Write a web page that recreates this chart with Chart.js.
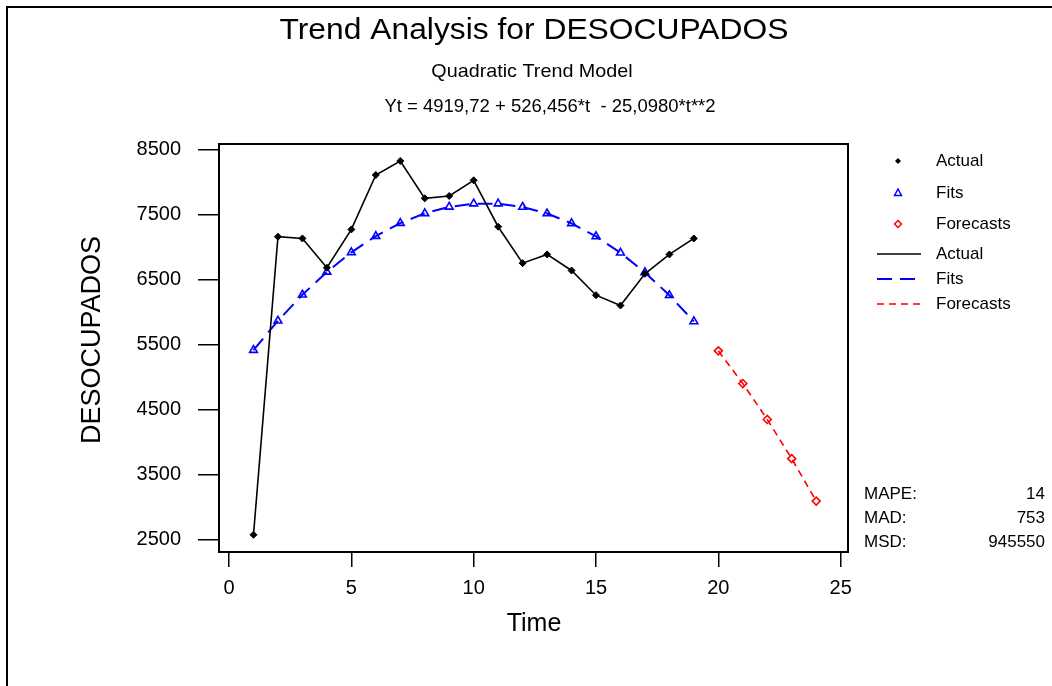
<!DOCTYPE html>
<html>
<head>
<meta charset="utf-8">
<title>Trend Analysis for DESOCUPADOS</title>
<script src="https://cdn.jsdelivr.net/npm/chart.js@4"></script>
<style>
  html, body { margin: 0; padding: 0; background: #fff; }
  #wrap { position: relative; width: 1052px; height: 686px; overflow: hidden; }
</style>
</head>
<body>
<div id="wrap"><canvas id="trend-chart" width="1052" height="686"></canvas></div>
<script>
// Data
var periods = [1, 2, 3, 4, 5, 6, 7, 8, 9, 10, 11, 12, 13, 14, 15, 16, 17, 18, 19];
var actual = [2580, 7166, 7139, 6688, 7278, 8115, 8331, 7756, 7792, 8033,
              7319, 6759, 6893, 6646, 6266, 6107, 6595, 6893, 7139];
var fits = [5421, 5872, 6273, 6624, 6925, 7175, 7375, 7525, 7625, 7674,
            7674, 7623, 7522, 7371, 7170, 6918, 6616, 6264, 5862];
var forecastPeriods = [20, 21, 22, 23, 24];
var forecasts = [5410, 4907, 4354, 3751, 3098];

var xTicks = [0, 5, 10, 15, 20, 25];
var yTicks = [2500, 3500, 4500, 5500, 6500, 7500, 8500];

var titleText = "Trend Analysis for DESOCUPADOS";
var subtitleText = "Quadratic Trend Model";
var equationText = "Yt = 4919,72 + 526,456*t  - 25,0980*t**2";
var xTitle = "Time";
var yTitle = "DESOCUPADOS";
var statLabels = ["MAPE:", "MAD:", "MSD:"];
var statValues = ["14", "753", "945550"];

var FONT = '"Liberation Sans", Arial, Helvetica, sans-serif';

function toPoints(xs, ys) {
    return xs.map(function(x, i) { return { x: x, y: ys[i] }; });
}

function drawText(ctx, str, x, y, size, align, sx) {
    ctx.save();
    ctx.font = size + "px " + FONT;
    ctx.textAlign = align;
    ctx.textBaseline = "middle";
    ctx.fillStyle = "#000";
    ctx.translate(x, y);
    ctx.scale(sx || 1, 1);
    ctx.fillText(str, 0, 0);
    ctx.restore();
}

function legendMarker(ctx, style, x, y, color) {
    ctx.save();
    ctx.strokeStyle = color;
    ctx.fillStyle = color;
    ctx.lineWidth = 1.5;
    ctx.beginPath();
    if (style === "dot") {
        ctx.moveTo(x - 3, y); ctx.lineTo(x, y - 3); ctx.lineTo(x + 3, y); ctx.lineTo(x, y + 3);
        ctx.closePath();
        ctx.fill();
    } else if (style === "tri") {
        ctx.moveTo(x, y - 4); ctx.lineTo(x + 3.5, y + 2.5); ctx.lineTo(x - 3.5, y + 2.5);
        ctx.closePath();
        ctx.stroke();
    } else {
        ctx.moveTo(x - 3.5, y); ctx.lineTo(x, y - 3.5); ctx.lineTo(x + 3.5, y); ctx.lineTo(x, y + 3.5);
        ctx.closePath();
        ctx.stroke();
    }
    ctx.restore();
}

function legendLine(ctx, y, color, dash, width) {
    ctx.save();
    ctx.strokeStyle = color;
    ctx.lineWidth = width;
    ctx.setLineDash(dash);
    ctx.beginPath();
    ctx.moveTo(877, y);
    ctx.lineTo(921, y);
    ctx.stroke();
    ctx.restore();
}

var minitabPlugin = {
    id: "minitabPlugin",
    beforeDraw: function(chart) {
        var ctx = chart.ctx;
        ctx.save();
        ctx.fillStyle = "#fff";
        ctx.fillRect(0, 0, chart.width, chart.height);
        // outer page border (top and left only visible)
        ctx.fillStyle = "#000";
        ctx.fillRect(6, 6, chart.width - 6, 2);
        ctx.fillRect(6, 6, 2, chart.height - 6);
        ctx.restore();
    },
    beforeDatasetsDraw: function(chart) {
        var ctx = chart.ctx, a = chart.chartArea;
        ctx.save();
        ctx.strokeStyle = "#000";
        ctx.lineWidth = 2;
        ctx.strokeRect(a.left, a.top, a.right - a.left, a.bottom - a.top);
        ctx.restore();
    },
    afterDraw: function(chart) {
        var ctx = chart.ctx;
        var ds = chart.data.datasets;

        drawText(ctx, titleText, 534, 31, 30, "center", 1.06);
        drawText(ctx, subtitleText, 532, 72, 19, "center", 1.04);
        drawText(ctx, equationText, 550, 107, 18.5, "center", 1);

        drawText(ctx, xTitle, 534, 624, 25, "center", 1);
        ctx.save();
        ctx.translate(93, 340);
        ctx.rotate(-Math.PI / 2);
        drawText(ctx, yTitle, 0, 0, 27, "center", 1);
        ctx.restore();

        // legend: symbols then connection lines
        var markerRows = [161, 193, 224];
        var lineRows = [254, 279, 304];
        var styles = ["dot", "tri", "diamond"];
        for (var i = 0; i < 3; i++) {
            legendMarker(ctx, styles[i], 898, markerRows[i], ds[i].borderColor);
            drawText(ctx, ds[i].label, 936, markerRows[i], 17, "left", 1);
        }
        for (var j = 0; j < 3; j++) {
            legendLine(ctx, lineRows[j], ds[j].borderColor, ds[j].borderDash || [], ds[j].borderWidth);
            drawText(ctx, ds[j].label, 936, lineRows[j], 17, "left", 1);
        }

        // accuracy measures
        var statRows = [494, 518, 542];
        for (var k = 0; k < statLabels.length; k++) {
            drawText(ctx, statLabels[k], 864, statRows[k], 17, "left", 1);
            drawText(ctx, statValues[k], 1045, statRows[k], 17, "right", 1);
        }
    }
};

var ctx = document.getElementById("trend-chart").getContext("2d");
var chart = new Chart(ctx, {
    type: "line",
    data: {
        datasets: [{
            label: "Actual",
            data: toPoints(periods, actual),
            borderColor: "#000000",
            backgroundColor: "#000000",
            borderWidth: 1.6,
            pointStyle: "rectRot",
            pointRadius: 3.5,
            pointBorderWidth: 1,
            pointBackgroundColor: "#000000",
            tension: 0
        }, {
            label: "Fits",
            data: toPoints(periods, fits),
            borderColor: "#0000FF",
            backgroundColor: "#0000FF",
            borderWidth: 2,
            borderDash: [15, 8],
            pointStyle: "triangle",
            pointRadius: 4.5,
            pointBorderWidth: 1.6,
            pointBackgroundColor: "rgba(255,255,255,0)",
            tension: 0
        }, {
            label: "Forecasts",
            data: toPoints(forecastPeriods, forecasts),
            borderColor: "#FF0000",
            backgroundColor: "#FF0000",
            borderWidth: 1.6,
            borderDash: [7, 5],
            pointStyle: "rectRot",
            pointRadius: 4,
            pointBorderWidth: 1.6,
            pointBackgroundColor: "rgba(255,255,255,0)",
            tension: 0
        }]
    },
    options: {
        responsive: false,
        animation: false,
        events: [],
        layout: { padding: { left: 100, right: 204, top: 144, bottom: 74 } },
        plugins: {
            legend: { display: false },
            title: { display: false },
            tooltip: { enabled: false }
        },
        scales: {
            x: {
                type: "linear",
                min: -0.41,
                max: 25.3,
                afterBuildTicks: function(scale) {
                    scale.ticks = xTicks.map(function(v) { return { value: v }; });
                },
                afterFit: function(scale) { scale.height = 60; },
                grid: { drawOnChartArea: false, drawTicks: true, tickLength: 15, color: "#000", lineWidth: 1.5 },
                border: { display: false },
                ticks: {
                    color: "#000",
                    font: { family: FONT, size: 20 },
                    padding: 9,
                    maxRotation: 0,
                    autoSkip: false
                }
            },
            y: {
                type: "linear",
                min: 2315,
                max: 8592,
                afterBuildTicks: function(scale) {
                    scale.ticks = yTicks.map(function(v) { return { value: v }; });
                },
                afterFit: function(scale) { scale.width = 119; },
                grid: { drawOnChartArea: false, drawTicks: true, tickLength: 21, color: "#000", lineWidth: 1.5 },
                border: { display: false },
                ticks: {
                    color: "#000",
                    font: { family: FONT, size: 20 },
                    padding: 17,
                    autoSkip: false,
                    callback: function(v) { return String(v); }
                }
            }
        }
    },
    plugins: [minitabPlugin]
});
</script>
</body>
</html>
